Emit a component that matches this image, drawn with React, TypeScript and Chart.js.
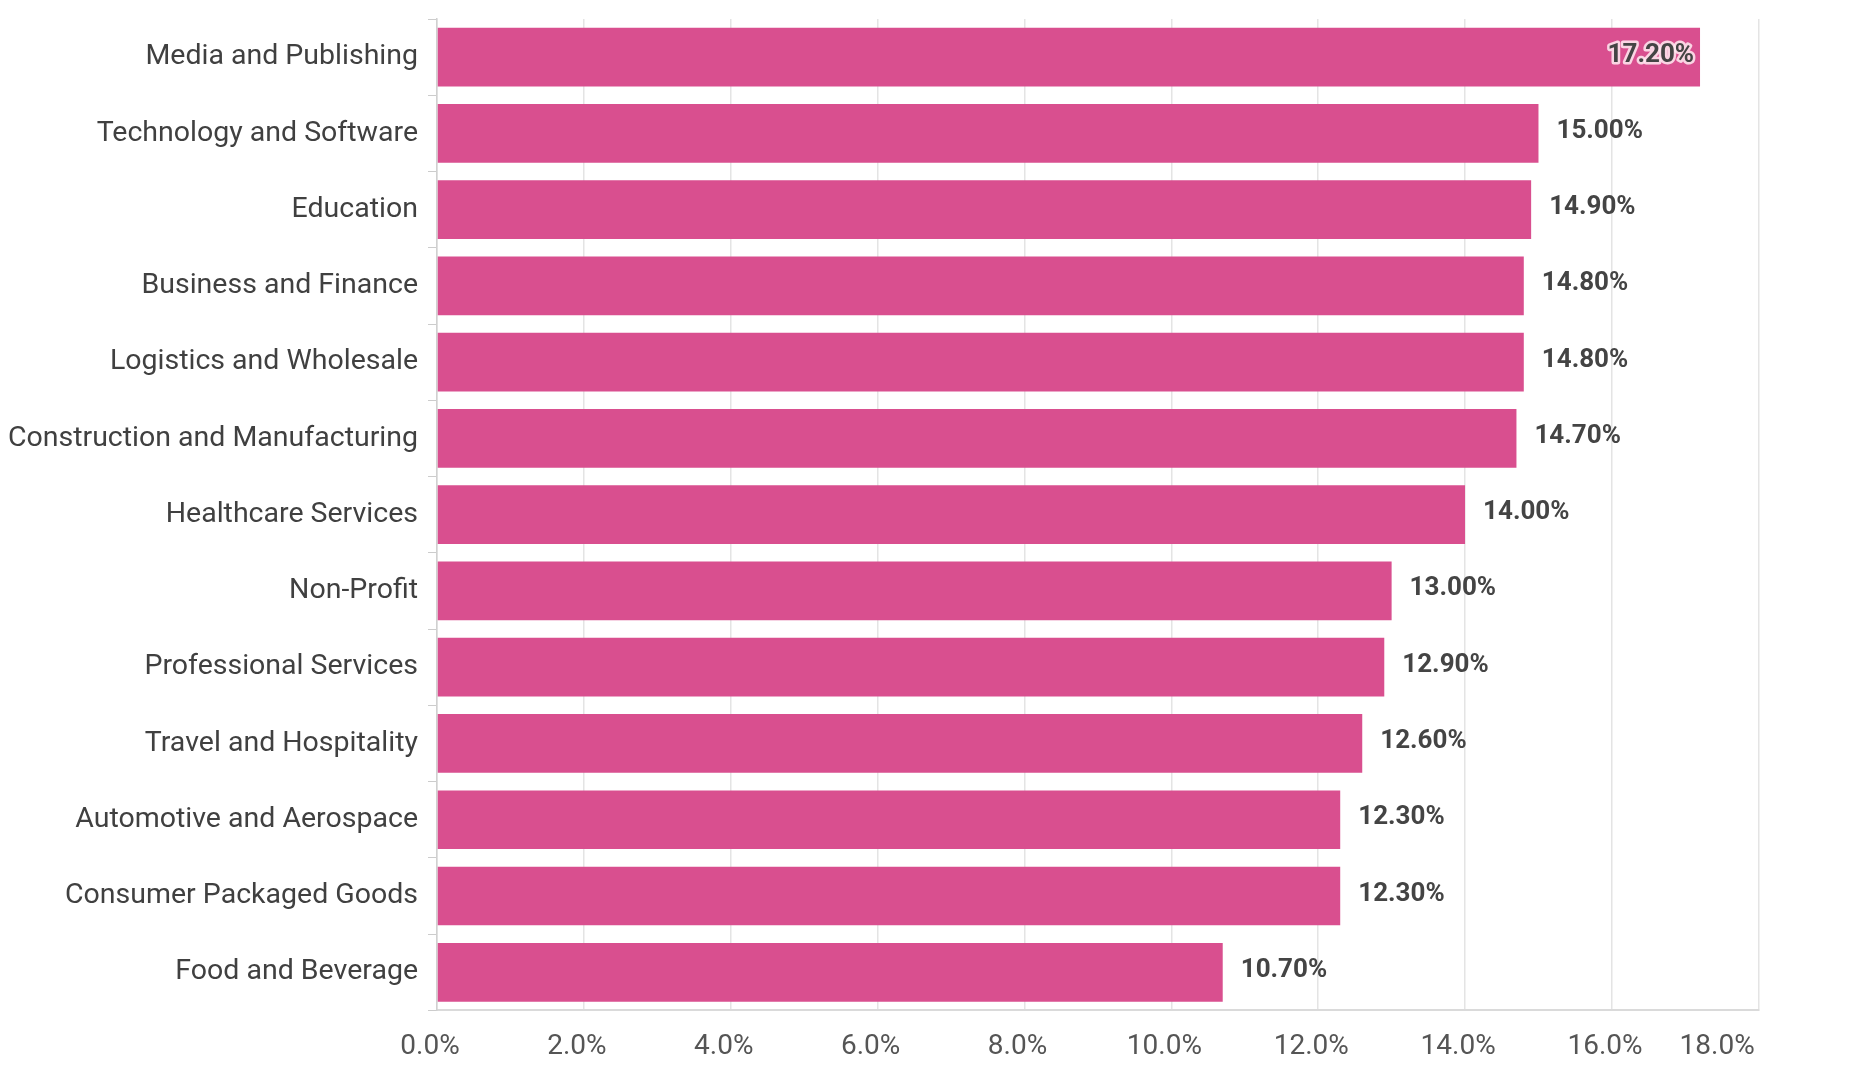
import React, { useEffect, useRef } from "react";
import { Chart, registerables } from "chart.js";

Chart.register(...registerables);

const categories = [
  "Media and Publishing",
  "Technology and Software",
  "Education",
  "Business and Finance",
  "Logistics and Wholesale",
  "Construction and Manufacturing",
  "Healthcare Services",
  "Non-Profit",
  "Professional Services",
  "Travel and Hospitality",
  "Automotive and Aerospace",
  "Consumer Packaged Goods",
  "Food and Beverage",
];

const values = [17.2, 15.0, 14.9, 14.8, 14.8, 14.7, 14.0, 13.0, 12.9, 12.6, 12.3, 12.3, 10.7];

const valueLabels = ["17.20%", "15.00%", "14.90%", "14.80%", "14.80%", "14.70%", "14.00%", "13.00%", "12.90%", "12.60%", "12.30%", "12.30%", "10.70%"];

const xMin = 0;
const xMax = 18;
const xStep = 2;

const FONT = "Roboto";
const BAR_COLOR = "#D94F8F";

const valueLabelPlugin = {
  id: "valueLabels",
  afterDatasetsDraw(chart: any) {
    const ctx = chart.ctx;
    const meta = chart.getDatasetMeta(0);
    const area = chart.chartArea;
    ctx.save();
    ctx.font = `bold 26px ${FONT}`;
    ctx.textBaseline = "middle";
    meta.data.forEach((bar: any, i: number) => {
      const text = valueLabels[i];
      const w = ctx.measureText(text).width;
      const x = bar.x;
      const y = bar.y - 2;
      if (x + 18 + w > area.right) {
        ctx.textAlign = "right";
        ctx.lineJoin = "round";
        ctx.lineWidth = 5;
        ctx.strokeStyle = "rgba(255,235,242,0.85)";
        ctx.strokeText(text, x - 6, y);
        ctx.fillStyle = "#444444";
        ctx.fillText(text, x - 6, y);
      } else {
        ctx.textAlign = "left";
        ctx.fillStyle = "#444444";
        ctx.fillText(text, x + 18, y);
      }
    });
    ctx.restore();
  },
};

export default function App() {
  const canvasRef = useRef<HTMLCanvasElement | null>(null);

  useEffect(() => {
    if (!canvasRef.current) return;
    Chart.defaults.font.family = FONT;
    const chart = new Chart(canvasRef.current, {
      type: "bar",
      data: {
        labels: categories,
        datasets: [
          {
            data: values,
            backgroundColor: BAR_COLOR,
            borderWidth: 0,
            barPercentage: 0.77,
            categoryPercentage: 1,
          },
        ],
      },
      options: {
        indexAxis: "y",
        responsive: true,
        maintainAspectRatio: false,
        animation: false,
        layout: { padding: { top: 19, right: 99, bottom: -4, left: 0 } },
        plugins: {
          legend: { display: false },
          tooltip: { enabled: false },
        },
        scales: {
          x: {
            min: xMin,
            max: xMax,
            ticks: {
              stepSize: xStep,
              autoSkip: false,
              maxRotation: 0,
              padding: 20,
              color: "#555555",
              font: { family: FONT, size: 28 },
              callback: (v: any) => {
                const n = Number(v);
                const s = n.toFixed(1) + "%";
                return n === xMax ? s + "            " : s + "  ";
              },
            },
            grid: { color: "#e4e4e4", lineWidth: 1.5, drawTicks: false },
            border: { color: "#dadada", width: 2 },
          },
          y: {
            ticks: {
              autoSkip: false,
              padding: 10,
              color: "#404040",
              font: { family: FONT, size: 28.5 },
            },
            grid: {
              drawOnChartArea: false,
              drawTicks: true,
              tickLength: 9,
              color: "#cccccc",
              offset: true,
            },
            border: { color: "#d0d0d0", width: 1.5 },
            afterFit: (scale: any) => {
              scale.width = 437;
              scale.paddingTop = 0;
              scale.paddingBottom = 0;
            },
          },
        },
      },
      plugins: [valueLabelPlugin],
    } as any);
    return () => chart.destroy();
  }, []);

  return (
    <div
      style={{
        position: "fixed",
        left: 0,
        top: 0,
        width: "1858px",
        height: "1080px",
        background: "#ffffff",
      }}
    >
      <canvas ref={canvasRef} />
    </div>
  );
}
